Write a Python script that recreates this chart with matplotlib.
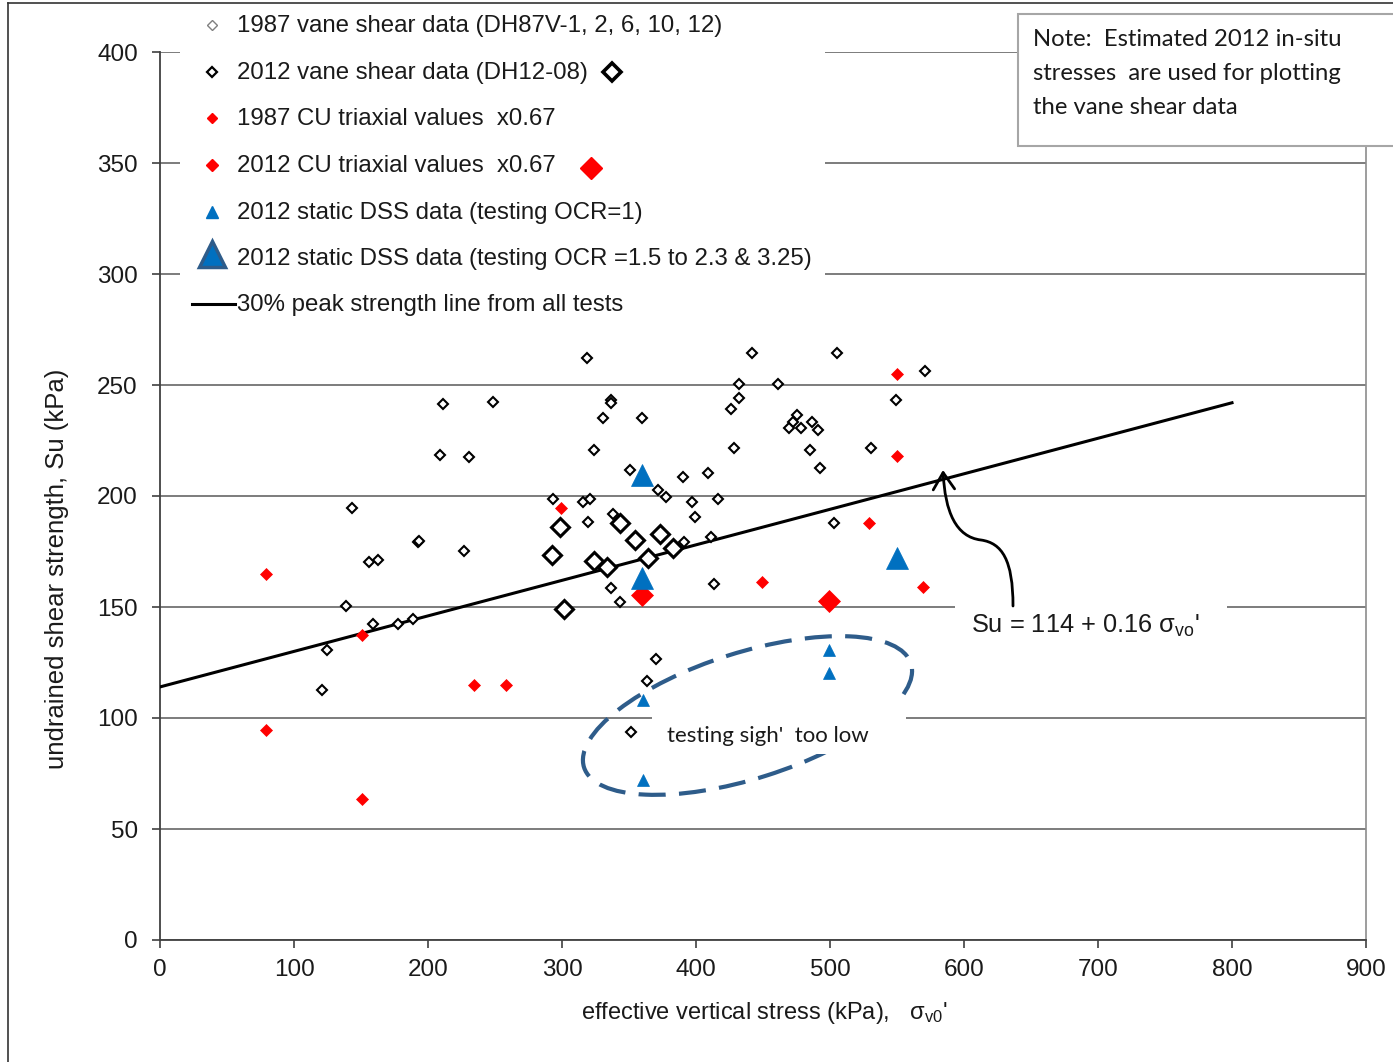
import matplotlib
matplotlib.use('Agg')
import matplotlib.pyplot as plt
from matplotlib.patches import Ellipse, Rectangle, FancyArrowPatch
from matplotlib.path import Path
from matplotlib.transforms import Affine2D

NARROW = ['Liberation Sans', 'DejaVu Sans']
REG = ['Liberation Sans', 'DejaVu Sans']
CAL = ['Lato', 'DejaVu Sans']
plt.rcParams['font.family'] = NARROW
plt.rcParams['mathtext.fontset'] = 'custom'
plt.rcParams['mathtext.rm'] = 'Liberation Sans'
plt.rcParams['mathtext.it'] = 'Liberation Sans:italic'

# ---------------- data ----------------
vane1987_x = [318.9, 211, 248.5, 336.6, 336.6, 330.8, 360, 209, 230.6, 324, 351, 390.3,
              372, 377.6, 397.2, 399, 143.5, 293.5, 315.4, 321, 319.4, 338, 192.8, 193.5,
              155.7, 163, 226.9, 391, 336.3, 343.5, 138.8, 159.2, 177.6, 189, 124.9, 120.9,
              441.6, 505, 570.9, 432.3, 461, 432.3, 425.9, 549, 475.1, 472.6, 469.7, 478.4,
              486.8, 491.3, 428.4, 485, 530.3, 492.5, 409.2, 416.7, 411.2, 503, 413.4,
              370.1, 363.7, 351.5]
vane1987_y = [262.3, 241.3, 242.2, 243.2, 241.7, 235.1, 235.1, 218.6, 217.6, 220.7, 211.7, 208.7,
              202.5, 199.5, 197.3, 190.5, 194.4, 198.5, 197.4, 198.5, 188.3, 191.9, 179.4, 179.8,
              170.4, 171.3, 175.4, 179.4, 158.4, 152.4, 150.5, 142.3, 142.3, 144.4, 130.6, 112.6,
              264.3, 264.3, 256.3, 250.3, 250.3, 244.0, 239.0, 243.2, 236.5, 233.5, 230.5, 230.5,
              233.5, 229.7, 221.5, 220.7, 221.5, 212.7, 210.5, 198.5, 181.7, 187.7, 160.2,
              126.6, 116.7, 93.5]

vane2012_x = [298.5, 343.3, 354.7, 373.1, 292.3, 323.9, 333.3, 364.2, 383, 301.7]
vane2012_y = [185.9, 187.7, 180.2, 182.9, 173.4, 170.9, 168.2, 171.9, 176.4, 148.9]

cu1987_x = [79.3, 79.3, 151, 151, 234.3, 258.2, 299.3, 449.3, 529.3, 549.7, 549.7, 569.2]
cu1987_y = [164.7, 94.6, 137.2, 63.4, 114.9, 114.9, 194.4, 161.4, 188.0, 254.8, 218.0, 158.8]

cu2012_x = [360, 499.3]
cu2012_y = [155.4, 152.8]

dss1_x = [360.2, 360.2, 499.5, 499.5, 544.8]
dss1_y = [108.0, 72.1, 130.6, 120.4, 104.0]

dss2_x = [360, 360, 549.7]
dss2_y = [209.5, 162.9, 171.9]

line_intercept = 114
line_slope = 0.16
line_x = [0, 800]

x_ticks = [0, 100, 200, 300, 400, 500, 600, 700, 800, 900]
y_ticks = [0, 50, 100, 150, 200, 250, 300, 350, 400]

legend_labels = ['1987 vane shear data (DH87V-1, 2, 6, 10, 12)',
                 '2012 vane shear data (DH12-08)',
                 '1987 CU triaxial values  x0.67',
                 '2012 CU triaxial values  x0.67',
                 '2012 static DSS data (testing OCR=1)',
                 '2012 static DSS data (testing OCR =1.5 to 2.3 & 3.25)',
                 '30% peak strength line from all tests']

RED = '#FF0000'
BLUE = '#0070C0'
GRID = '#595959'

# ---------------- figure ----------------
W, H = 1393, 1062
fig = plt.figure(figsize=(W / 100, H / 100), dpi=100)
X0, X1, Y0, Y1 = 160, 1366, 940, 52
ax = fig.add_axes([X0 / W, (H - Y0) / H, (X1 - X0) / W, (Y0 - Y1) / H])
ax.set_xlim(0, 900)
ax.set_ylim(0, 400)
ax.set_xticks(x_ticks)
ax.set_yticks(y_ticks)
ax.yaxis.grid(True, color=GRID, lw=1.1)
ax.set_axisbelow(True)
ax.spines['top'].set_visible(False)
ax.spines['right'].set_color('#8c8c8c')
ax.spines['right'].set_linewidth(1.2)
for s in ('left', 'bottom'):
    ax.spines[s].set_color('#404040')
    ax.spines[s].set_linewidth(1.3)
ax.tick_params(direction='out', length=6, width=1.2, color='#404040',
               labelsize=17.5, labelcolor='#1a1a1a')
ax.tick_params(axis='y', pad=10)
ax.tick_params(axis='x', pad=8)

# regression line
ly = [line_intercept + line_slope * v for v in line_x]
ax.plot(line_x, ly, color='black', lw=2.2, zorder=3)

# ellipse annotation (defined in pixel units, mapped to data)
pix2data = Affine2D().scale(900 / (X1 - X0), 400 / (Y0 - Y1)) + ax.transData
ell = Ellipse((587.5, 224.5), 343, 126, angle=17.6, fill=False, edgecolor='#2E5C8A',
              lw=3.0, linestyle=(0, (6.5, 3.2)), transform=pix2data, zorder=2)
ax.add_patch(ell)

# markers
ax.plot(vane1987_x, vane1987_y, ls='none', marker='D', ms=5.6, mfc='white', mec='black',
        mew=1.5, zorder=4)
ax.plot(vane2012_x, vane2012_y, ls='none', marker='D', ms=9.5, mfc='white', mec='black',
        mew=2.2, zorder=4)
ax.plot(cu1987_x, cu1987_y, ls='none', marker='D', ms=6.2, mfc=RED, mec=RED, mew=0.5, zorder=5)
ax.plot(cu2012_x, cu2012_y, ls='none', marker='D', ms=11, mfc=RED, mec=RED, mew=0.5, zorder=5)
ax.plot(dss1_x, dss1_y, ls='none', marker='^', ms=8.5, mfc=BLUE, mec=BLUE, mew=0.5, zorder=5)
ax.plot(dss2_x, dss2_y, ls='none', marker='^', ms=16.5, mfc=BLUE, mec=BLUE, mew=0.5, zorder=5)

# ---------------- overlay (pixel coordinates) ----------------
ov = fig.add_axes([0, 0, 1, 1], zorder=10)
ov.set_xlim(0, W)
ov.set_ylim(H, 0)
ov.axis('off')
ov.patch.set_alpha(0)

# figure border
ov.plot([8, 8], [3, H + 5], color='#333333', lw=1.2, clip_on=False)
ov.plot([8, W + 5], [3, 3], color='#333333', lw=1.2, clip_on=False)

# legend box (white) and entries
ov.add_patch(Rectangle((180, 6), 645, 322, facecolor='white', edgecolor='none', zorder=1))
rows = [25, 72, 118, 165, 212, 258, 304]
tx = 237
for lab, ry in zip(legend_labels, rows):
    ov.text(tx, ry + 1, lab, fontsize=17.3, va='center', ha='left', color='#1a1a1a',
            family=NARROW, zorder=3)
mx = 212
ov.plot([mx], [rows[0]], marker='D', ms=5.6, mfc='white', mec='#808080', mew=1.0, zorder=3)
ov.plot([mx], [rows[1]], marker='D', ms=5.6, mfc='white', mec='black', mew=1.6, zorder=3)
ov.plot([612], [rows[1]], marker='D', ms=9.5, mfc='white', mec='black', mew=2.6, zorder=3)
ov.plot([mx], [rows[2]], marker='D', ms=5.0, mfc=RED, mec=RED, zorder=3)
ov.plot([mx], [rows[3]], marker='D', ms=6.0, mfc=RED, mec=RED, zorder=3)
ov.plot([591], [rows[3] + 3], marker='D', ms=11, mfc=RED, mec=RED, zorder=3)
ov.plot([mx], [rows[4]], marker='^', ms=8.5, mfc=BLUE, mec=BLUE, zorder=3)
ov.plot([mx], [rows[5] - 4], marker='^', ms=19, mfc=BLUE, mec='#2E5C8A', mew=2.5, zorder=3)
ov.plot([192, 235], [rows[6], rows[6]], color='black', lw=2.2, zorder=3)

# note box
ov.add_patch(Rectangle((1018, 14), 390, 132, facecolor='white', edgecolor='#a6a6a6',
                       lw=1.5, zorder=1, clip_on=False))
for t, yy in zip(['Note:  Estimated 2012 in-situ',
                  'stresses  are used for plotting',
                  'the vane shear data'], [40, 74, 108]):
    ov.text(1033, yy, t, fontsize=17.2, va='center', ha='left', family=CAL,
            color='#1a1a1a', zorder=3)

# equation label and curved arrow
ov.add_patch(Rectangle((955, 598), 272, 52, facecolor='white', edgecolor='none', zorder=1))
ov.text(1085, 626, r"Su = 114 + 0.16 σ$_{\mathrm{vo}}$'", fontsize=18.3, va='center',
        ha='center', color='#1a1a1a', family=NARROW, zorder=3)
verts = [(1013, 606), (1013, 560), (1002, 543), (981, 540),
         (956, 537), (945, 512), (943, 470)]
codes = [Path.MOVETO, Path.CURVE4, Path.CURVE4, Path.CURVE4,
         Path.CURVE4, Path.CURVE4, Path.CURVE4]
arr = FancyArrowPatch(path=Path(verts, codes), arrowstyle='->,head_length=0.55,head_width=0.35',
                      mutation_scale=22, lw=2.0, color='black', zorder=3)
ov.add_patch(arr)

# "testing sigh' too low" label
ov.add_patch(Rectangle((652, 702), 254, 52, facecolor='white', edgecolor='none', zorder=1))
ov.text(768, 736, "testing sigh'  too low", fontsize=16, va='center', ha='center',
        family=CAL, color='#1a1a1a', zorder=3)

# axis labels
ov.text(57, 569, 'undrained shear strength, Su (kPa)', rotation=90, fontsize=18.5,
        va='center', ha='center', family=REG, color='#1a1a1a')
ov.text(764, 1013, r"effective vertical stress (kPa),   σ$_{\mathrm{v0}}$'", fontsize=17,
        va='center', ha='center', family=NARROW, color='#1a1a1a')

fig.savefig('out.png', dpi=100)
